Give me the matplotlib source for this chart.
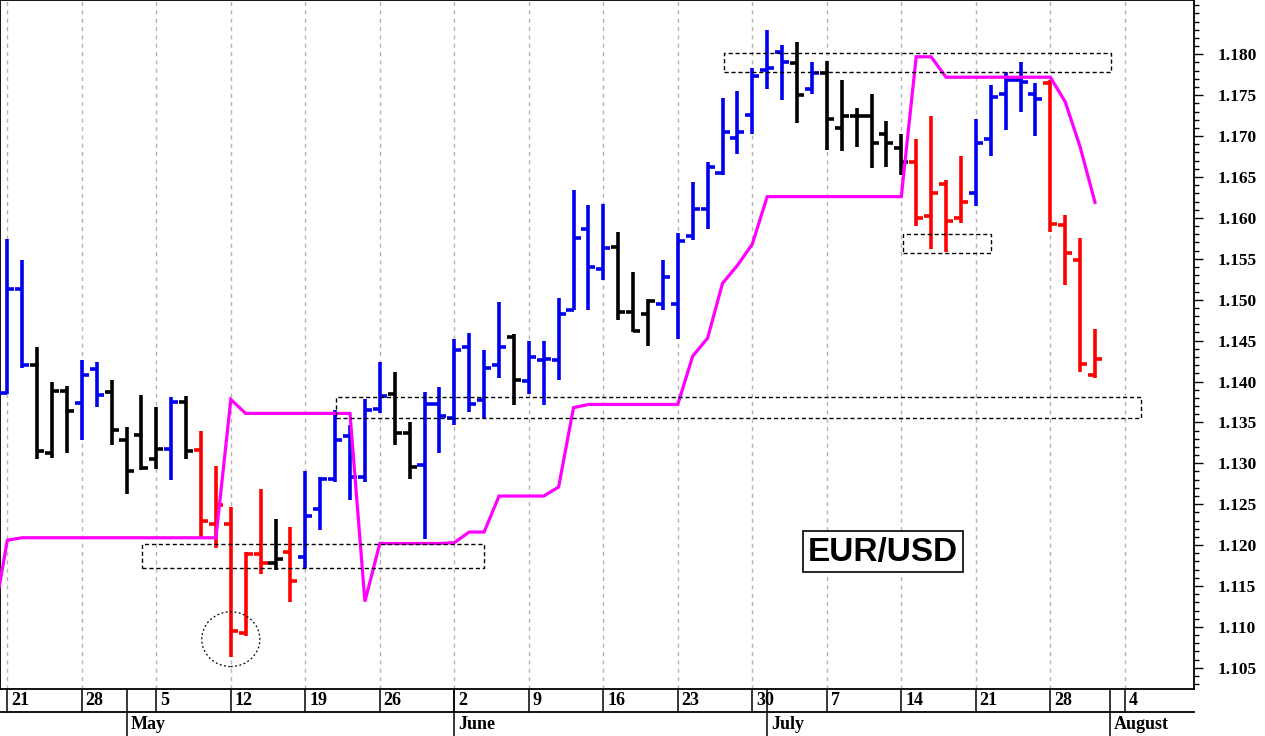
import matplotlib
matplotlib.use("Agg")
import matplotlib.pyplot as plt
from matplotlib.collections import LineCollection
from matplotlib.patches import Rectangle, Ellipse
import numpy as np
import pandas as pd

# ---------------- data ----------------
dates = pd.bdate_range("2025-04-21", "2025-07-31")

opens = [1.1386, 1.1513, 1.1420, 1.1313, 1.1389, 1.1374, 1.1415, 1.1387, 1.1329, 1.1335,
         1.1305, 1.1317, 1.1375, 1.1316, 1.1226, 1.1226, 1.1092, 1.1189, 1.1178, 1.1192,
         1.1186, 1.1244, 1.1281, 1.1333, 1.1283, 1.1367, 1.1385, 1.1337, 1.1298, 1.1373,
         1.1355, 1.1442, 1.1377, 1.1420, 1.1454, 1.1401, 1.1426, 1.1426, 1.1488, 1.1587,
         1.1537, 1.1565, 1.1485, 1.1482, 1.1495, 1.1495, 1.1578, 1.1611, 1.1655, 1.1698,
         1.1726, 1.1781, 1.1803, 1.1789, 1.1758, 1.1777, 1.1710, 1.1724, 1.1724, 1.1702,
         1.1685, 1.1668, 1.1602, 1.1641, 1.1600, 1.1631, 1.1696, 1.1752, 1.1768, 1.1751,
         1.1765, 1.1591, 1.1549, 1.1408]
highs = [1.1574, 1.1548, 1.1442, 1.1400, 1.1395, 1.1426, 1.1424, 1.1402, 1.1345, 1.1383,
         1.1369, 1.1381, 1.1382, 1.1340, 1.1297, 1.1246, 1.1192, 1.1269, 1.1232, 1.1222,
         1.1291, 1.1283, 1.1365, 1.1347, 1.1379, 1.1424, 1.1412, 1.1350, 1.1387, 1.1393,
         1.1452, 1.1459, 1.1438, 1.1497, 1.1458, 1.1450, 1.1450, 1.1502, 1.1634, 1.1616,
         1.1617, 1.1583, 1.1534, 1.1501, 1.1548, 1.1581, 1.1644, 1.1668, 1.1747, 1.1755,
         1.1783, 1.1830, 1.1811, 1.1815, 1.1791, 1.1792, 1.1768, 1.1734, 1.1752, 1.1718,
         1.1703, 1.1697, 1.1725, 1.1646, 1.1676, 1.1721, 1.1763, 1.1778, 1.1791, 1.1765,
         1.1768, 1.1603, 1.1575, 1.1464]
lows = [1.1385, 1.1416, 1.1305, 1.1307, 1.1313, 1.1329, 1.1369, 1.1322, 1.1263, 1.1292,
        1.1293, 1.1279, 1.1305, 1.1210, 1.1196, 1.1063, 1.1089, 1.1165, 1.1169, 1.1131,
        1.1172, 1.1218, 1.1277, 1.1255, 1.1277, 1.1361, 1.1323, 1.1281, 1.1208, 1.1312,
        1.1347, 1.1363, 1.1355, 1.1404, 1.1371, 1.1385, 1.1371, 1.1402, 1.1487, 1.1488,
        1.1524, 1.1475, 1.1460, 1.1444, 1.1487, 1.1452, 1.1573, 1.1587, 1.1653, 1.1678,
        1.1703, 1.1758, 1.1744, 1.1716, 1.1751, 1.1683, 1.1682, 1.1687, 1.1661, 1.1662,
        1.1653, 1.1590, 1.1562, 1.1558, 1.1594, 1.1614, 1.1676, 1.1708, 1.1729, 1.1700,
        1.1583, 1.1518, 1.1412, 1.1404]
closes = [1.1513, 1.1420, 1.1315, 1.1389, 1.1364, 1.1408, 1.1383, 1.1341, 1.1290, 1.1294,
          1.1317, 1.1375, 1.1315, 1.1230, 1.1249, 1.1095, 1.1189, 1.1178, 1.1183, 1.1156,
          1.1236, 1.1281, 1.1329, 1.1283, 1.1365, 1.1382, 1.1337, 1.1295, 1.1373, 1.1358,
          1.1438, 1.1372, 1.1417, 1.1442, 1.1402, 1.1430, 1.1428, 1.1483, 1.1575, 1.1540,
          1.1563, 1.1485, 1.1462, 1.1499, 1.1528, 1.1572, 1.1611, 1.1662, 1.1705, 1.1705,
          1.1773, 1.1783, 1.1790, 1.1750, 1.1777, 1.1721, 1.1724, 1.1724, 1.1692, 1.1691,
          1.1668, 1.1600, 1.1631, 1.1596, 1.1619, 1.1691, 1.1748, 1.1768, 1.1766, 1.1745,
          1.1592, 1.1557, 1.1422, 1.1428]
bar_colors = list("bbkkkbbkkk" "kbkrrrrrkr" "bbbbbbkkbb" "bbbbkbbbbb"
                  "bkkkbbbbbb" "bbbkbkkkkk" "krrrrbbbbb" "rrrr")

# magenta stop line; first value belongs to the session before 21 April
stop_line = [1.1101,
             1.1206, 1.1209, 1.1209, 1.1209, 1.1209, 1.1209, 1.1209, 1.1209, 1.1209, 1.1209,
             1.1209, 1.1209, 1.1209, 1.1209, 1.1209, 1.1378, 1.1361, 1.1361, 1.1361, 1.1361,
             1.1361, 1.1361, 1.1361, 1.1361, 1.1131, 1.1202, 1.1202, 1.1202, 1.1202, 1.1202,
             1.1203, 1.1216, 1.1216, 1.1260, 1.1260, 1.1260, 1.1260, 1.1271, 1.1368, 1.1372,
             1.1372, 1.1372, 1.1372, 1.1372, 1.1372, 1.1372, 1.1431, 1.1453, 1.1520, 1.1542,
             1.1568, 1.1626, 1.1626, 1.1626, 1.1626, 1.1626, 1.1626, 1.1626, 1.1626, 1.1626,
             1.1626, 1.1797, 1.1797, 1.1772, 1.1772, 1.1772, 1.1772, 1.1772, 1.1772, 1.1772,
             1.1772, 1.1742, 1.1687, 1.1619]

day_labels = ["21", "28", "5", "12", "19", "26", "2", "9", "16", "23", "30", "7", "14", "21", "28", "4"]
month_labels = ["May", "June", "July", "August"]
month_starts = ["2025-05-01", "2025-06-02", "2025-07-01", "2025-08-01"]
y_ticks = [1.105, 1.110, 1.115, 1.120, 1.125, 1.130, 1.135, 1.140, 1.145, 1.150,
           1.155, 1.160, 1.165, 1.170, 1.175, 1.180]

# annotation boxes: (first bar, last bar, low price, high price)
boxes = [(9.04, 32.01, 1.1172, 1.1201),
         (22.06, 76.07, 1.1355, 1.1381),
         (48.12, 74.05, 1.1778, 1.1801),
         (60.09, 66.00, 1.1557, 1.1580)]
circle = (15.0, 1.1085, 3.9, 0.0067)
label_box = (53.42, 64.16, 1.11675, 1.12176)

# ---------------- figure ----------------
W, H = 1265, 736
fig = plt.figure(figsize=(W / 100, H / 100), dpi=100)
fig.patch.set_facecolor("white")
plot_bottom = 689
ax = fig.add_axes([0, (H - plot_bottom) / H, 1194 / W, plot_bottom / H])

x0_px, step_px = 7.3, 14.9
xlim = ((0 - x0_px) / step_px, (1194 - x0_px) / step_px)
ax.set_xlim(*xlim)
ax.set_ylim(1.10241, 1.18664)

cmap = {"b": "#0000ee", "k": "#000000", "r": "#ff0000"}
idx = np.arange(len(opens))
segs, cols = [], []
tick = 0.47
for i in idx:
    c = cmap[bar_colors[i]]
    segs.append([(i, lows[i]), (i, highs[i])])
    segs.append([(i - tick, opens[i]), (i, opens[i])])
    segs.append([(i, closes[i]), (i + tick, closes[i])])
    cols += [c, c, c]
ax.add_collection(LineCollection(segs, colors=cols, linewidths=2.6,
                                 capstyle="butt", zorder=3))

stop_x = np.arange(-1, len(stop_line) - 1)
ax.plot(stop_x, stop_line, color="#ff00ff", lw=2.3, zorder=4, solid_joinstyle="miter")

# Monday gridlines
all_days = pd.bdate_range("2025-04-21", "2025-08-04")
mondays = [i for i, d in enumerate(all_days) if d.weekday() == 0]
for m in mondays:
    ax.axvline(m, color="#b4b4b4", lw=1.0, ls=(0, (3, 3)), zorder=1)

for (a, b, lo, hi) in boxes:
    ax.add_patch(Rectangle((a, lo), b - a, hi - lo, fill=False, ec="black",
                           lw=1.0, ls=(0, (3, 2)), zorder=5))
ax.add_patch(Ellipse((circle[0], circle[1]), circle[2], circle[3], fill=False,
                     ec="black", lw=0.9, ls=(0, (1.5, 2)), zorder=5))

lx0, lx1, ly0, ly1 = label_box
ax.add_patch(Rectangle((lx0, ly0), lx1 - lx0, ly1 - ly0, fc="white", ec="black",
                       lw=1.2, zorder=6))
ax.text((lx0 + lx1) / 2, ly0 + (ly1 - ly0) * 0.25, "EUR/USD", ha="center", va="baseline",
        fontsize=24, fontweight="bold", family="Liberation Sans", zorder=7)

# y axis on the right
ax.yaxis.tick_right()
ax.set_yticks(y_ticks)
ax.set_yticklabels([f"{v:.3f}" for v in y_ticks], family="Liberation Serif",
                   fontweight="bold", fontsize=12.5)
ax.set_yticks(np.round(np.arange(1.103, 1.1865, 0.001), 3), minor=True)
ax.tick_params(axis="y", which="major", length=6.7, width=1.0, pad=10.5, direction="out")
ax.tick_params(axis="y", which="minor", length=3.8, width=1.0, direction="out")
ax.set_xticks([])
for s in ax.spines.values():
    s.set_linewidth(1.3)
    s.set_color("black")

# date axis rows
axb = fig.add_axes([0, 0, 1194 / W, (H - plot_bottom) / H])
axb.set_xlim(*xlim)
axb.set_ylim(0, 2)
axb.axis("off")
axb.plot(list(xlim), [1.02, 1.02], color="black", lw=1.3, clip_on=False)
for m, lab in zip(mondays, day_labels):
    axb.plot([m, m], [1.02, 2], color="black", lw=1.1)
    axb.text(m + 3.8 / step_px, 1.5, lab, ha="left", va="center", family="Liberation Serif",
             fontweight="bold", fontsize=13)
for ms, lab in zip(month_starts, month_labels):
    mi = list(all_days).index(pd.Timestamp(ms))
    axb.plot([mi, mi], [0, 2], color="black", lw=1.1)
    axb.text(mi + 4 / step_px, 0.48, lab, ha="left", va="center", family="Liberation Serif",
             fontweight="bold", fontsize=13)

fig.savefig("out.png", dpi=100, facecolor="white")
